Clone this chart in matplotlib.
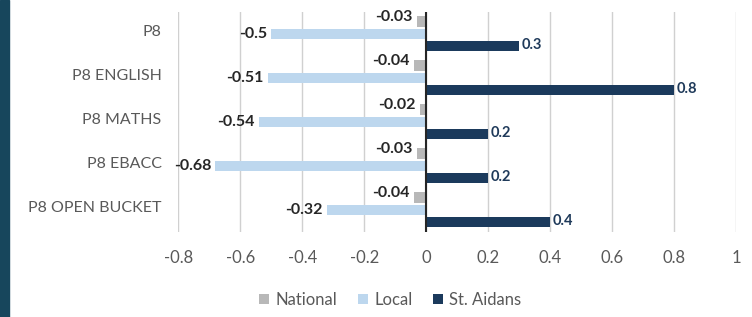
import numpy as np
import matplotlib.pyplot as plt
from matplotlib.patches import Rectangle

plt.rcParams['font.family'] = ['Lato', 'DejaVu Sans']

# data
categories = ['P8', 'P8 ENGLISH', 'P8 MATHS', 'P8 EBACC', 'P8 OPEN BUCKET']
national = [-0.03, -0.04, -0.02, -0.03, -0.04]
local = [-0.5, -0.51, -0.54, -0.68, -0.32]
st_aidans = [0.3, 0.8, 0.2, 0.2, 0.4]
xticks = [-0.8, -0.6, -0.4, -0.2, 0, 0.2, 0.4, 0.6, 0.8, 1]

c_nat = '#b8b8b8'
c_loc = '#bdd7ee'
c_sa = '#1b3a5c'
grey_txt = '#595959'

fig = plt.figure(figsize=(7.52, 3.17), dpi=100)
ax = fig.add_axes([0.237, 0.268, 0.742, 0.694])

# dunkel rand links
fig.patches.append(Rectangle((0, 0), 9 / 752, 1, transform=fig.transFigure,
                             color='#17465c', zorder=0))

y = np.arange(len(categories))
h = 0.24
ax.barh(y - 0.29, national, height=h, color=c_nat, label='National', zorder=3)
ax.barh(y, local, height=h, color=c_loc, label='Local', zorder=3)
ax.barh(y + 0.27, st_aidans, height=h, color=c_sa, label='St. Aidans', zorder=3)

# data labels
for i in range(len(categories)):
    ax.annotate(f'{national[i]:g}', (national[i], y[i] - 0.29), xytext=(-3, 3),
                textcoords='offset points', ha='right', va='center',
                fontsize=11.5, fontweight='bold', color='#262626')
    ax.annotate(f'{local[i]:g}', (local[i], y[i]), xytext=(-3, 0),
                textcoords='offset points', ha='right', va='center',
                fontsize=11.5, fontweight='bold', color='#262626')
    ax.annotate(f'{st_aidans[i]:g}', (st_aidans[i], y[i] + 0.27), xytext=(2, 1),
                textcoords='offset points', ha='left', va='center',
                fontsize=10.5, fontweight='bold', color='#1f3a5a')

ax.set_xlim(-0.8, 1)
ax.set_ylim(4.5, -0.5)
ax.set_xticks(xticks)
ax.set_xticklabels([f'{t:g}' for t in xticks])
ax.set_yticks(y - 0.08)
ax.set_yticklabels(categories)
ax.tick_params(axis='x', length=0, pad=13, labelsize=12, colors=grey_txt)
ax.tick_params(axis='y', length=0, pad=12, labelsize=11.5, colors=grey_txt)

ax.grid(axis='x', color='#d0d0d0', linewidth=1, zorder=0)
ax.axvline(0, color='#262626', linewidth=1.5, zorder=4)
for s in ax.spines.values():
    s.set_visible(False)

fig.legend(loc='center', bbox_to_anchor=(0.519, 0.054), ncol=3, frameon=False,
           fontsize=12, labelcolor=grey_txt, handlelength=0.6, handleheight=0.6,
           handletextpad=0.4, columnspacing=1.2)

fig.savefig('out.png', dpi=100)
